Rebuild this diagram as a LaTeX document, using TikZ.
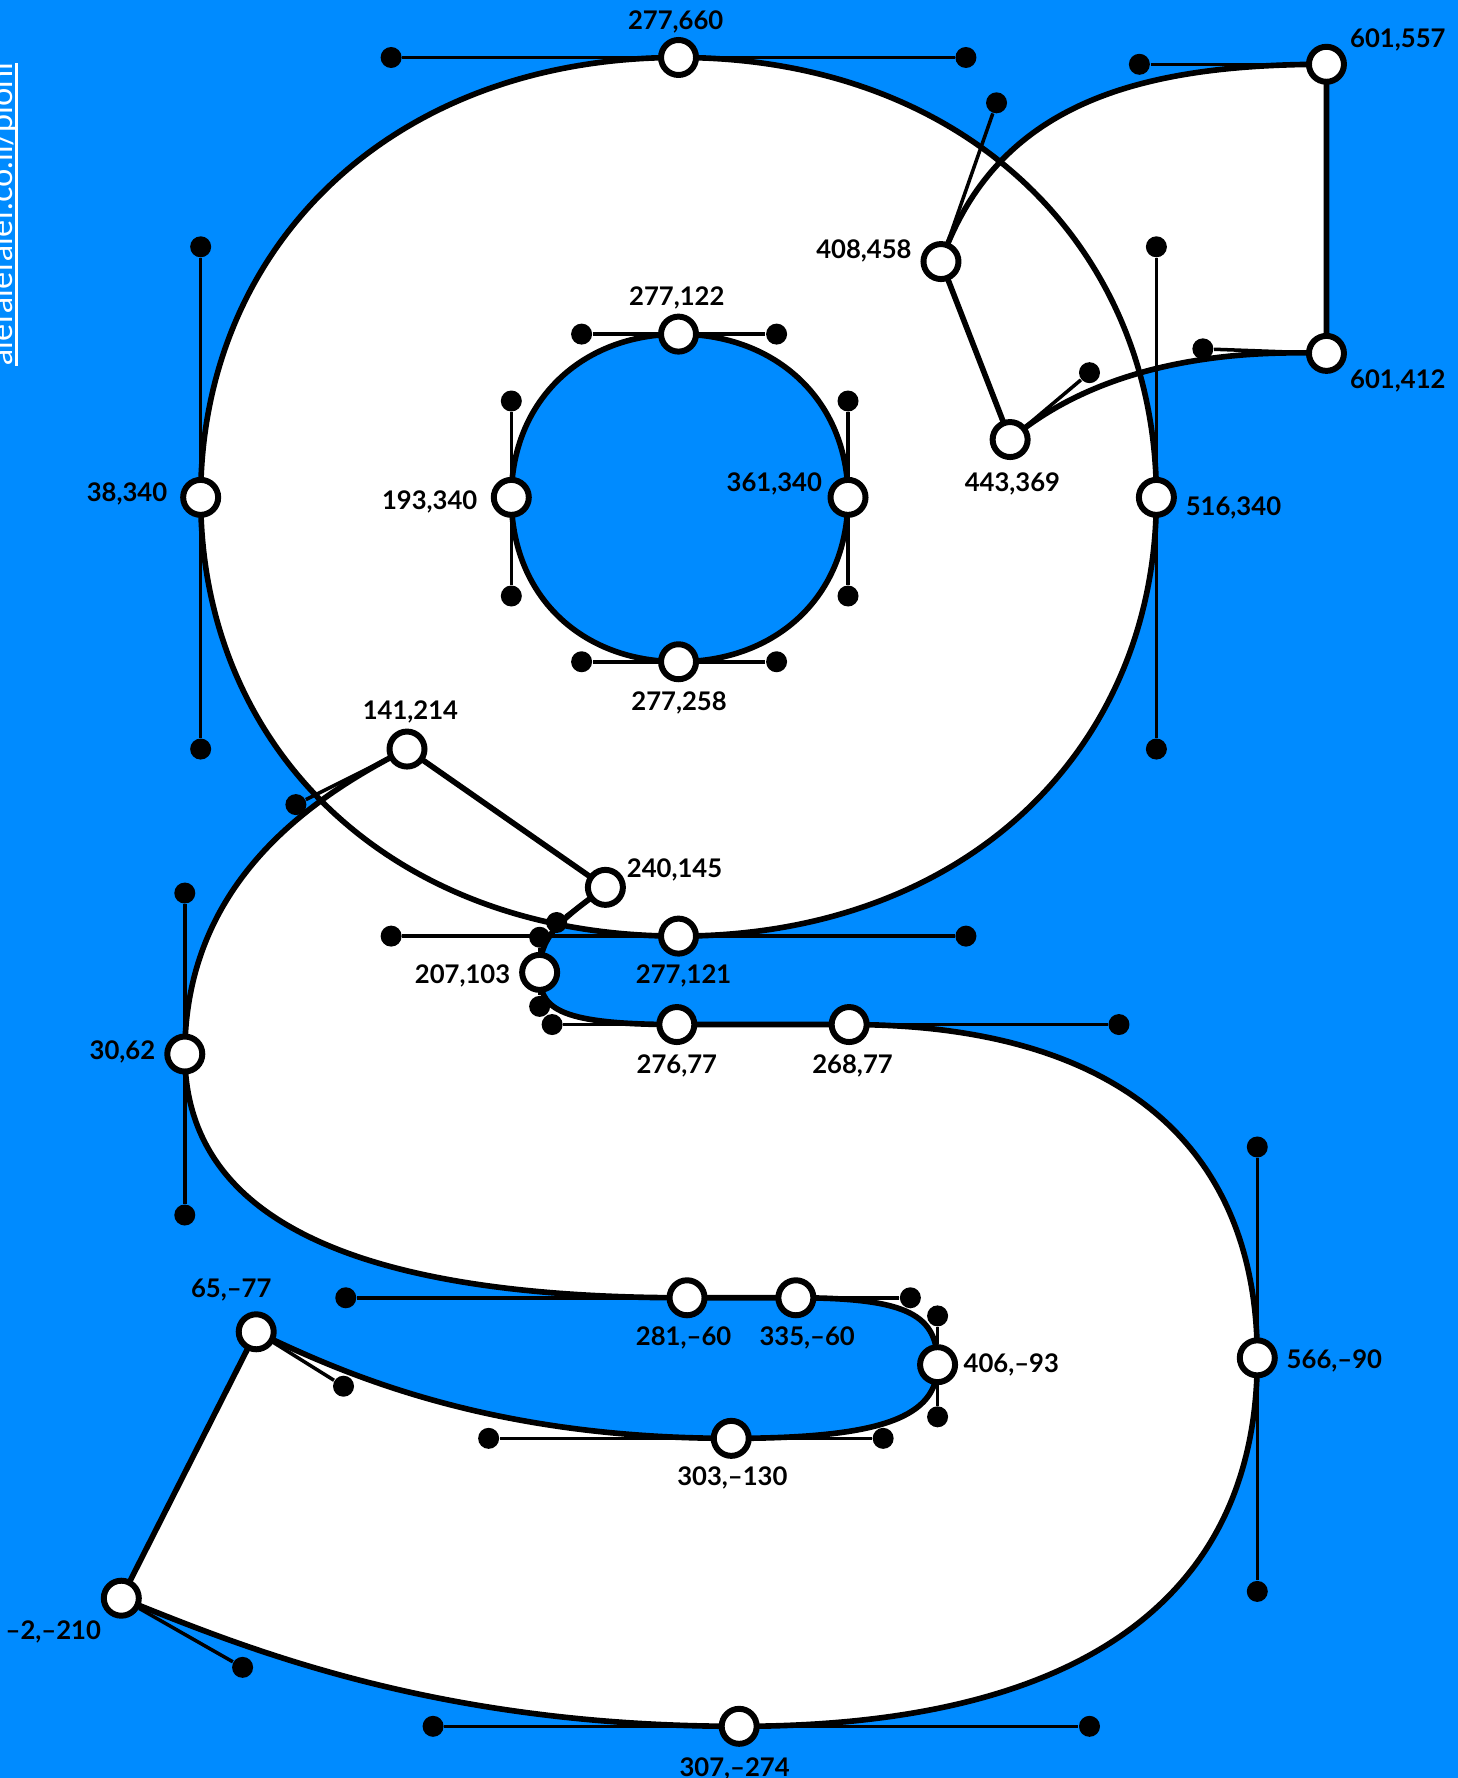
\documentclass[tikz,border=0pt]{standalone}
\usepackage{fontspec}
\setmainfont{Lato}
\usetikzlibrary{backgrounds}
\definecolor{sheet}{HTML}{008BFF}
\tikzset{
    oncurve/.style={circle, draw=black, fill=white, line width=1.7pt, minimum size=3.5mm, inner sep=0pt},
    offcurve/.style={circle, fill=black, minimum size=2.1mm, inner sep=0pt},
    coord/.style={font=\fontsize{7.3}{8}\selectfont\bfseries, text=black, inner sep=0pt, yshift=-0.15mm},
    outline/.style={draw=black, line width=1.6pt, line join=round},
    handle/.style={draw=black, line width=1pt},
}
\begin{document}
\begin{tikzpicture}[x=0.011337cm, y=-0.011337cm, shift={(0,0.7)}]
    \useasboundingbox (0,-0.7) rectangle (1286,1567.6);

    % bowl, outer
    \node[oncurve] (bowlT) at (598.5,50) {};
    \node[oncurve] (bowlR) at (1020,438) {};
    \node[oncurve] (bowlB) at (598.5,825) {};
    \node[oncurve] (bowlL) at (177,438) {};
    \node[offcurve] (bowlTa) at (345,50) {};
    \node[offcurve] (bowlTb) at (852,50) {};
    \node[offcurve] (bowlRa) at (1020,217) {};
    \node[offcurve] (bowlRb) at (1020,660) {};
    \node[offcurve] (bowlBa) at (852,825) {};
    \node[offcurve] (bowlBb) at (345,825) {};
    \node[offcurve] (bowlLa) at (177,660) {};
    \node[offcurve] (bowlLb) at (177,217) {};

    % bowl, counter
    \node[oncurve] (cntrT) at (598.5,294) {};
    \node[oncurve] (cntrR) at (748,438) {};
    \node[oncurve] (cntrB) at (598.5,583) {};
    \node[oncurve] (cntrL) at (451,438) {};
    \node[offcurve] (cntrTa) at (513,294) {};
    \node[offcurve] (cntrTb) at (685,294) {};
    \node[offcurve] (cntrRa) at (748,353) {};
    \node[offcurve] (cntrRb) at (748,525) {};
    \node[offcurve] (cntrBa) at (685,583) {};
    \node[offcurve] (cntrBb) at (513,583) {};
    \node[offcurve] (cntrLa) at (451,525) {};
    \node[offcurve] (cntrLb) at (451,353) {};

    % ear
    \node[oncurve] (earA) at (1170,56) {};
    \node[oncurve] (earB) at (830,230) {};
    \node[oncurve] (earC) at (891,387) {};
    \node[oncurve] (earD) at (1170,311) {};
    \node[offcurve] (earAa) at (1005,56) {};
    \node[offcurve] (earBa) at (879,90) {};
    \node[offcurve] (earCa) at (961,328) {};
    \node[offcurve] (earDa) at (1061,307) {};

    % lower part
    \node[oncurve] (lowA) at (359,660) {};
    \node[oncurve] (lowB) at (163,929) {};
    \node[oncurve] (lowC) at (606,1144) {};
    \node[oncurve] (lowD) at (702,1144) {};
    \node[oncurve] (lowE) at (827,1203) {};
    \node[oncurve] (lowF) at (645,1268) {};
    \node[oncurve] (lowG) at (226,1174) {};
    \node[oncurve] (lowH) at (107,1409) {};
    \node[oncurve] (lowI) at (652,1522) {};
    \node[oncurve] (lowJ) at (1109,1197) {};
    \node[oncurve] (lowK) at (749,903) {};
    \node[oncurve] (lowL) at (597,903) {};
    \node[oncurve] (lowM) at (476,857) {};
    \node[oncurve] (lowN) at (534,782) {};
    \node[offcurve] (lowAa) at (261,709) {};
    \node[offcurve] (lowBa) at (163,787) {};
    \node[offcurve] (lowBb) at (163,1071) {};
    \node[offcurve] (lowCa) at (305,1144) {};
    \node[offcurve] (lowDa) at (803,1144) {};
    \node[offcurve] (lowEa) at (827,1160) {};
    \node[offcurve] (lowEb) at (827,1249) {};
    \node[offcurve] (lowFa) at (779,1268) {};
    \node[offcurve] (lowFb) at (431,1268) {};
    \node[offcurve] (lowGa) at (303,1222) {};
    \node[offcurve] (lowHa) at (214,1470) {};
    \node[offcurve] (lowIa) at (382,1522) {};
    \node[offcurve] (lowIb) at (961,1522) {};
    \node[offcurve] (lowJa) at (1109,1403) {};
    \node[offcurve] (lowJb) at (1109,1011) {};
    \node[offcurve] (lowKa) at (987,903) {};
    \node[offcurve] (lowLa) at (487,903) {};
    \node[offcurve] (lowMa) at (476,887) {};
    \node[offcurve] (lowMb) at (476,826) {};
    \node[offcurve] (lowNa) at (491,813) {};
    % the curve runs above these two dots
    \coordinate (lowGc) at (303,1211);
    \coordinate (lowHc) at (214,1452);

    \begin{scope}[on background layer]
        \fill[sheet] (0,-0.7) rectangle (1286,1567.6);
        % fills first, so that no outline gets covered
        \fill[white] (bowlT.center) .. controls (bowlTb.center) and (bowlRa.center) .. (bowlR.center)
            .. controls (bowlRb.center) and (bowlBa.center) .. (bowlB.center)
            .. controls (bowlBb.center) and (bowlLa.center) .. (bowlL.center)
            .. controls (bowlLb.center) and (bowlTa.center) .. (bowlT.center) -- cycle;
        \fill[sheet] (cntrT.center) .. controls (cntrTb.center) and (cntrRa.center) .. (cntrR.center)
            .. controls (cntrRb.center) and (cntrBa.center) .. (cntrB.center)
            .. controls (cntrBb.center) and (cntrLa.center) .. (cntrL.center)
            .. controls (cntrLb.center) and (cntrTa.center) .. (cntrT.center) -- cycle;
        \fill[white] (earA.center) .. controls (earAa.center) and (earBa.center) .. (earB.center)
            -- (earC.center) .. controls (earCa.center) and (earDa.center) .. (earD.center) -- cycle;
        \fill[white] (lowA.center) .. controls (lowAa.center) and (lowBa.center) .. (lowB.center)
            .. controls (lowBb.center) and (lowCa.center) .. (lowC.center) -- (lowD.center)
            .. controls (lowDa.center) and (lowEa.center) .. (lowE.center)
            .. controls (lowEb.center) and (lowFa.center) .. (lowF.center)
            .. controls (lowFb.center) and (lowGc) .. (lowG.center) -- (lowH.center)
            .. controls (lowHc) and (lowIa.center) .. (lowI.center)
            .. controls (lowIb.center) and (lowJa.center) .. (lowJ.center)
            .. controls (lowJb.center) and (lowKa.center) .. (lowK.center) -- (lowL.center)
            .. controls (lowLa.center) and (lowMa.center) .. (lowM.center)
            .. controls (lowMb.center) and (lowNa.center) .. (lowN.center) -- cycle;

        \draw[outline] (bowlT.center) .. controls (bowlTb.center) and (bowlRa.center) .. (bowlR.center)
            .. controls (bowlRb.center) and (bowlBa.center) .. (bowlB.center)
            .. controls (bowlBb.center) and (bowlLa.center) .. (bowlL.center)
            .. controls (bowlLb.center) and (bowlTa.center) .. (bowlT.center) -- cycle;
        \draw[outline] (cntrT.center) .. controls (cntrTb.center) and (cntrRa.center) .. (cntrR.center)
            .. controls (cntrRb.center) and (cntrBa.center) .. (cntrB.center)
            .. controls (cntrBb.center) and (cntrLa.center) .. (cntrL.center)
            .. controls (cntrLb.center) and (cntrTa.center) .. (cntrT.center) -- cycle;
        \draw[outline] (earA.center) .. controls (earAa.center) and (earBa.center) .. (earB.center)
            -- (earC.center) .. controls (earCa.center) and (earDa.center) .. (earD.center) -- cycle;
        \draw[outline] (lowA.center) .. controls (lowAa.center) and (lowBa.center) .. (lowB.center)
            .. controls (lowBb.center) and (lowCa.center) .. (lowC.center) -- (lowD.center)
            .. controls (lowDa.center) and (lowEa.center) .. (lowE.center)
            .. controls (lowEb.center) and (lowFa.center) .. (lowF.center)
            .. controls (lowFb.center) and (lowGc) .. (lowG.center) -- (lowH.center)
            .. controls (lowHc) and (lowIa.center) .. (lowI.center)
            .. controls (lowIb.center) and (lowJa.center) .. (lowJ.center)
            .. controls (lowJb.center) and (lowKa.center) .. (lowK.center) -- (lowL.center)
            .. controls (lowLa.center) and (lowMa.center) .. (lowM.center)
            .. controls (lowMb.center) and (lowNa.center) .. (lowN.center) -- cycle;

        % handles
        \draw[handle] (bowlTa) -- (bowlT) -- (bowlTb);
        \draw[handle] (bowlRa) -- (bowlR) -- (bowlRb);
        \draw[handle] (bowlBa) -- (bowlB) -- (bowlBb);
        \draw[handle] (bowlLa) -- (bowlL) -- (bowlLb);
        \draw[handle] (cntrTa) -- (cntrT) -- (cntrTb);
        \draw[handle] (cntrRa) -- (cntrR) -- (cntrRb);
        \draw[handle] (cntrBa) -- (cntrB) -- (cntrBb);
        \draw[handle] (cntrLa) -- (cntrL) -- (cntrLb);
        \draw[handle] (earAa) -- (earA);
        \draw[handle] (earBa) -- (earB);
        \draw[handle] (earCa) -- (earC);
        \draw[handle] (earDa) -- (earD);
        \draw[handle] (lowAa) -- (lowA);
        \draw[handle] (lowBa) -- (lowB) -- (lowBb);
        \draw[handle] (lowCa) -- (lowC);
        \draw[handle] (lowDa) -- (lowD);
        \draw[handle] (lowEa) -- (lowE) -- (lowEb);
        \draw[handle] (lowFa) -- (lowF) -- (lowFb);
        \draw[handle] (lowGa) -- (lowG);
        \draw[handle] (lowHa) -- (lowH);
        \draw[handle] (lowIa) -- (lowI) -- (lowIb);
        \draw[handle] (lowJa) -- (lowJ) -- (lowJb);
        \draw[handle] (lowKa) -- (lowK);
        \draw[handle] (lowLa) -- (lowL);
        \draw[handle] (lowMa) -- (lowM) -- (lowMb);
        \draw[handle] (lowNa) -- (lowN);
    \end{scope}

    % coordinates
    \node[coord] (txtBowlT) at (596,17) {277,660};
    \node[coord] (txtBowlR) at (1088,446) {516,340};
    \node[coord] (txtBowlB) at (603,859) {277,121};
    \node[coord] (txtBowlL) at (112,434) {38,340};
    \node[coord] (txtCntrT) at (597,261) {277,122};
    \node[coord] (txtCntrR) at (683,425) {361,340};
    \node[coord] (txtCntrB) at (599,618) {277,258};
    \node[coord] (txtCntrL) at (379,441) {193,340};
    \node[coord] (txtEarA) at (1233,33) {601,557};
    \node[coord] (txtEarB) at (762,219) {408,458};
    \node[coord] (txtEarC) at (893,425) {443,369};
    \node[coord] (txtEarD) at (1233,334) {601,412};
    \node[coord] (txtLowA) at (362,626) {141,214};
    \node[coord] (txtLowB) at (108,926) {30,62};
    \node[coord] (txtLowC) at (603,1178) {281,–60};
    \node[coord] (txtLowD) at (712,1178) {335,–60};
    \node[coord] (txtLowE) at (892,1202) {406,–93};
    \node[coord] (txtLowF) at (646,1302) {303,–130};
    \node[coord] (txtLowG) at (204,1136) {65,–77};
    \node[coord] (txtLowH) at (47,1437) {–2,–210};
    \node[coord] (txtLowI) at (648,1558) {307,–274};
    \node[coord] (txtLowJ) at (1177,1198) {566,–90};
    \node[coord] (txtLowK) at (752,938) {268,77};
    \node[coord] (txtLowL) at (597,938) {276,77};
    \node[coord] (txtLowM) at (408,859) {207,103};
    \node[coord] (txtLowN) at (595,765) {240,145};

    % vertical link, cut by the page edge
    \node[rotate=90, anchor=base west, inner sep=0pt, text=white, font=\fontsize{9.2}{10}\selectfont] (link) at (11,322) {alefalefalef.co.il/pioni};
    \draw[white, line width=1.1pt] (14.5,322) -- (14.5,55);
\end{tikzpicture}
\end{document}
